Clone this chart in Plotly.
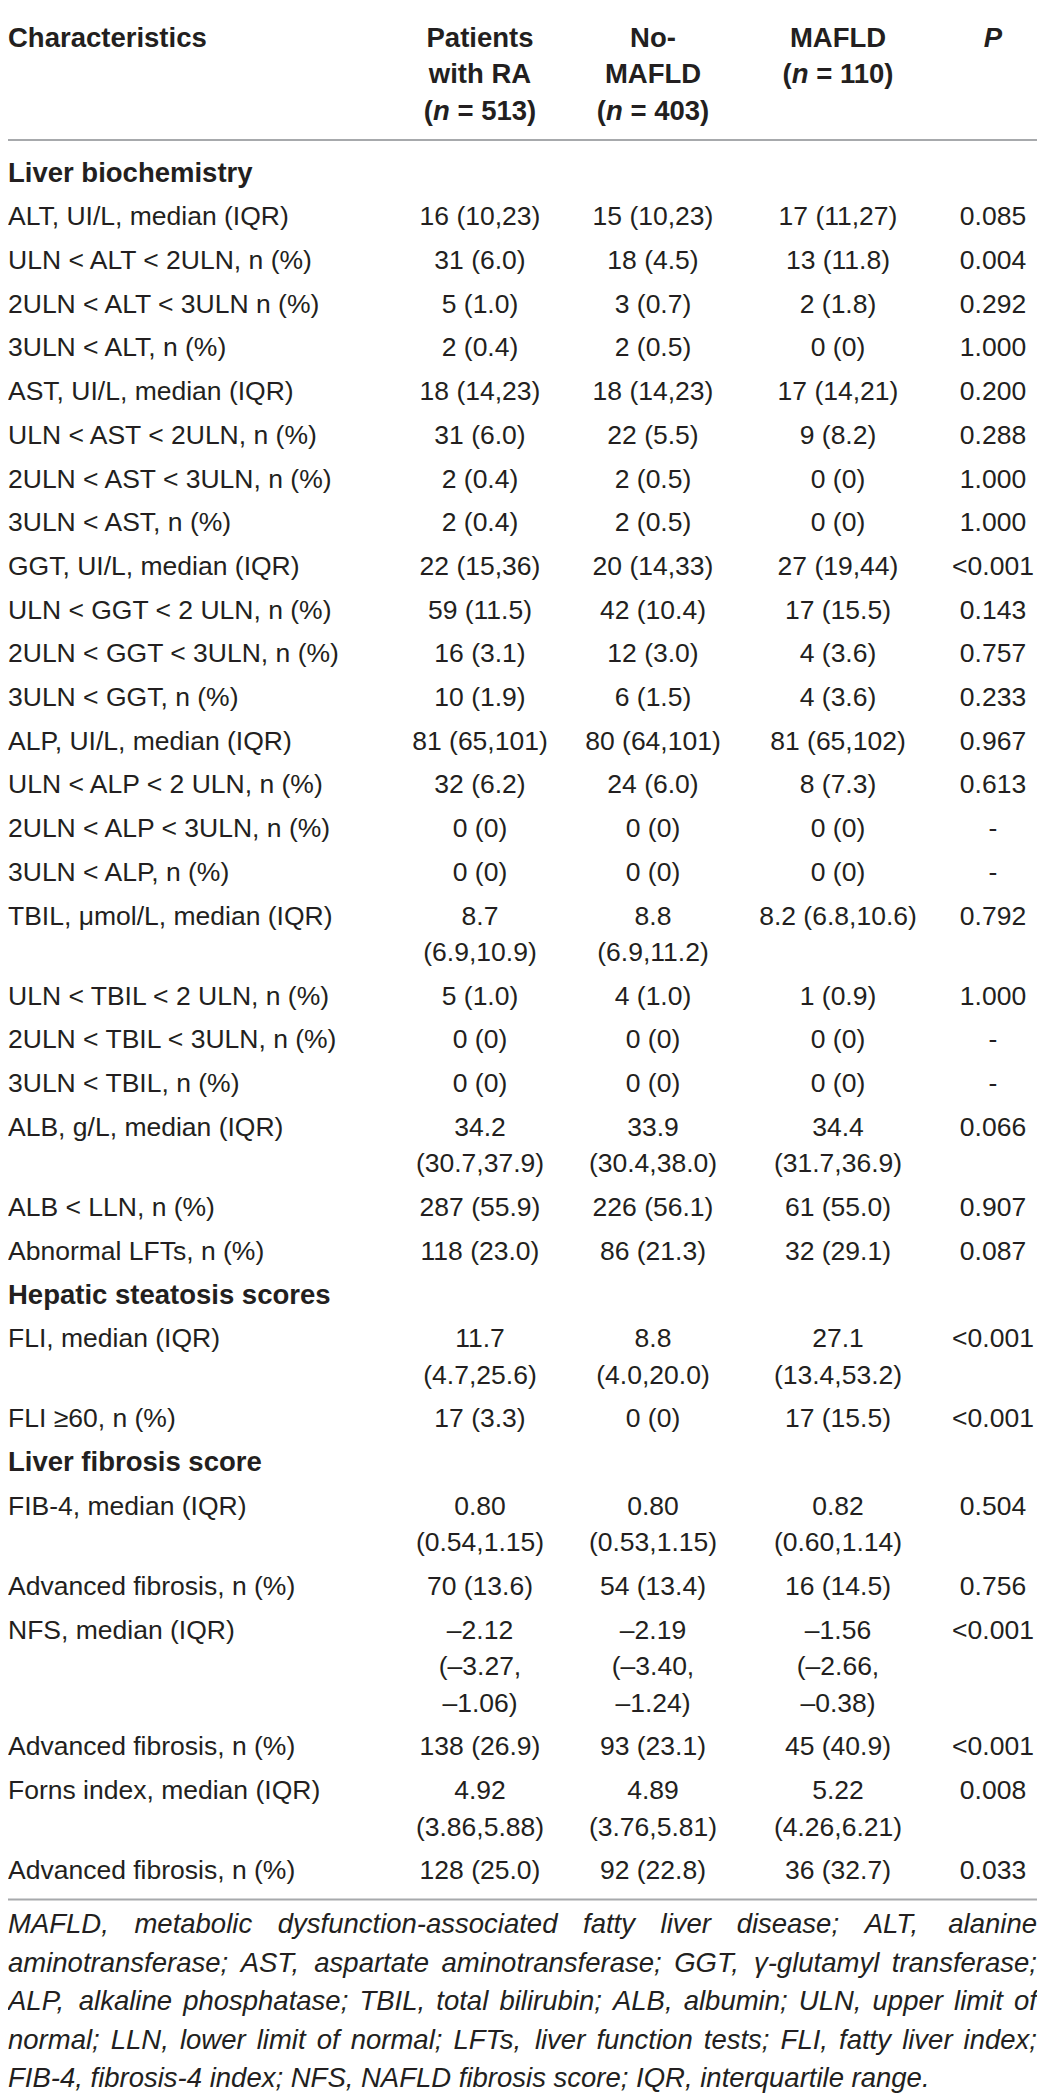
import plotly.graph_objects as go

# ---------------------------------------------------------------------------
# Table content (as printed)
# ---------------------------------------------------------------------------

header_labels = [
    "Characteristics",
    "Patients\nwith RA\n(<i>n</i> = 513)",
    "No-\nMAFLD\n(<i>n</i> = 403)",
    "MAFLD\n(<i>n</i> = 110)",
    "<i>P</i>",
]

section_names = ["Liver biochemistry", "Hepatic steatosis scores", "Liver fibrosis score"]

characteristics = [
    "ALT, UI/L, median (IQR)",
    "ULN < ALT < 2ULN, n (%)",
    "2ULN < ALT < 3ULN n (%)",
    "3ULN < ALT, n (%)",
    "AST, UI/L, median (IQR)",
    "ULN < AST < 2ULN, n (%)",
    "2ULN < AST < 3ULN, n (%)",
    "3ULN < AST, n (%)",
    "GGT, UI/L, median (IQR)",
    "ULN < GGT < 2 ULN, n (%)",
    "2ULN < GGT < 3ULN, n (%)",
    "3ULN < GGT, n (%)",
    "ALP, UI/L, median (IQR)",
    "ULN < ALP < 2 ULN, n (%)",
    "2ULN < ALP < 3ULN, n (%)",
    "3ULN < ALP, n (%)",
    "TBIL, μmol/L, median (IQR)",
    "ULN < TBIL < 2 ULN, n (%)",
    "2ULN < TBIL < 3ULN, n (%)",
    "3ULN < TBIL, n (%)",
    "ALB, g/L, median (IQR)",
    "ALB < LLN, n (%)",
    "Abnormal LFTs, n (%)",
    "FLI, median (IQR)",
    "FLI ≥60, n (%)",
    "FIB-4, median (IQR)",
    "Advanced fibrosis, n (%)",
    "NFS, median (IQR)",
    "Advanced fibrosis, n (%)",
    "Forns index, median (IQR)",
    "Advanced fibrosis, n (%)",
]

# which section each row belongs to
row_section = [0] * 23 + [1] * 2 + [2] * 6

ra_all = [
    "16 (10,23)", "31 (6.0)", "5 (1.0)", "2 (0.4)",
    "18 (14,23)", "31 (6.0)", "2 (0.4)", "2 (0.4)",
    "22 (15,36)", "59 (11.5)", "16 (3.1)", "10 (1.9)",
    "81 (65,101)", "32 (6.2)", "0 (0)", "0 (0)",
    "8.7\n(6.9,10.9)", "5 (1.0)", "0 (0)", "0 (0)",
    "34.2\n(30.7,37.9)", "287 (55.9)", "118 (23.0)",
    "11.7\n(4.7,25.6)", "17 (3.3)",
    "0.80\n(0.54,1.15)", "70 (13.6)", "–2.12\n(–3.27,\n–1.06)",
    "138 (26.9)", "4.92\n(3.86,5.88)", "128 (25.0)",
]

no_mafld = [
    "15 (10,23)", "18 (4.5)", "3 (0.7)", "2 (0.5)",
    "18 (14,23)", "22 (5.5)", "2 (0.5)", "2 (0.5)",
    "20 (14,33)", "42 (10.4)", "12 (3.0)", "6 (1.5)",
    "80 (64,101)", "24 (6.0)", "0 (0)", "0 (0)",
    "8.8\n(6.9,11.2)", "4 (1.0)", "0 (0)", "0 (0)",
    "33.9\n(30.4,38.0)", "226 (56.1)", "86 (21.3)",
    "8.8\n(4.0,20.0)", "0 (0)",
    "0.80\n(0.53,1.15)", "54 (13.4)", "–2.19\n(–3.40,\n–1.24)",
    "93 (23.1)", "4.89\n(3.76,5.81)", "92 (22.8)",
]

mafld = [
    "17 (11,27)", "13 (11.8)", "2 (1.8)", "0 (0)",
    "17 (14,21)", "9 (8.2)", "0 (0)", "0 (0)",
    "27 (19,44)", "17 (15.5)", "4 (3.6)", "4 (3.6)",
    "81 (65,102)", "8 (7.3)", "0 (0)", "0 (0)",
    "8.2 (6.8,10.6)", "1 (0.9)", "0 (0)", "0 (0)",
    "34.4\n(31.7,36.9)", "61 (55.0)", "32 (29.1)",
    "27.1\n(13.4,53.2)", "17 (15.5)",
    "0.82\n(0.60,1.14)", "16 (14.5)", "–1.56\n(–2.66,\n–0.38)",
    "45 (40.9)", "5.22\n(4.26,6.21)", "36 (32.7)",
]

p_values = [
    "0.085", "0.004", "0.292", "1.000",
    "0.200", "0.288", "1.000", "1.000",
    "<0.001", "0.143", "0.757", "0.233",
    "0.967", "0.613", "-", "-",
    "0.792", "1.000", "-", "-",
    "0.066", "0.907", "0.087",
    "<0.001", "<0.001",
    "0.504", "0.756", "<0.001", "<0.001", "0.008", "0.033",
]

footnote_lines = [
    "MAFLD, metabolic dysfunction-associated fatty liver disease; ALT, alanine",
    "aminotransferase; AST, aspartate aminotransferase; GGT, γ-glutamyl transferase;",
    "ALP, alkaline phosphatase; TBIL, total bilirubin; ALB, albumin; ULN, upper limit of",
    "normal; LLN, lower limit of normal; LFTs, liver function tests; FLI, fatty liver index;",
    "FIB-4, fibrosis-4 index; NFS, NAFLD fibrosis score; IQR, interquartile range.",
]

# ---------------------------------------------------------------------------
# Layout constants (page pixels)
# ---------------------------------------------------------------------------

W, H = 1045, 2097
PAGE_PAD = 8                              # browser body margin
COL_X = [8, 480, 653, 838, 993]          # first column left edge, others centres
LEFT, RIGHT = 8, 1037                     # rule / footnote extent
LINE = 36.5                               # line step inside a cell
ROW = 43.7                                # step between single-line rows
SHIFT = 3                                 # text "middle" anchor -> cap centre
FONT = "Liberation Sans, Arial, Helvetica, sans-serif"
INK = "#231f20"
RULE = "#a7a9ac"
FS = 26.5
BOLD_FS = 27.5
FOOT_FS = 27.5
FOOT_STEP = 38.5

# Liberation Sans / Arial advance widths (1/1000 em), used to justify the footnote
_ADV = {}
for chars, w in [("ijl", 222), ("ftI ,./;:!", 278), ("r-()", 333),
                 ("cksvxyzJγ", 500), ("abdeghnopqu0123456789", 556),
                 ("FTZ", 611), ("ABEKPSVXY", 667), ("CDHNRUw", 722),
                 ("GOQ", 778), ("mM", 833), ("%", 889), ("W", 944)]:
    for ch in chars:
        _ADV[ch] = w


def text_width(s, size):
    return sum(_ADV.get(ch, 556) for ch in s) * size / 1000


def esc(s):
    return s.replace("<", "&lt;")


# ---------------------------------------------------------------------------
# Work out line positions
# ---------------------------------------------------------------------------

top_rule = 6
head_y = top_rule + 31
texts = {c: ([], []) for c in range(5)}   # column -> (y list, text list)
bold = ([], [], [])                        # x, y, text

for c, lab in enumerate(header_labels):
    for k, part in enumerate(lab.split("\n")):
        bold[0].append(COL_X[c])
        bold[1].append(head_y + k * LINE + SHIFT)
        bold[2].append(f"<b>{part}</b>")

n_head = max(len(l.split("\n")) for l in header_labels)
head_rule = head_y + (n_head - 1) * LINE + 30

y = head_rule + 32
last_line = y
current = None
for i, name in enumerate(characteristics):
    if row_section[i] != current:
        current = row_section[i]
        bold[0].append(COL_X[0])
        bold[1].append(y + SHIFT)
        bold[2].append(f"<b>{section_names[current]}</b>")
        y += ROW
    cells = [name, ra_all[i], no_mafld[i], mafld[i], p_values[i]]
    n_lines = 1
    for c, cell in enumerate(cells):
        parts = cell.split("\n")
        n_lines = max(n_lines, len(parts))
        for k, part in enumerate(parts):
            texts[c][0].append(y + k * LINE + SHIFT)
            texts[c][1].append(esc(part))
    last_line = y + (n_lines - 1) * LINE
    y += ROW + (n_lines - 1) * LINE

bottom_rule = last_line + 30
foot_y0 = bottom_rule + 24

# footnote words, justified except the last line
foot_x, foot_y, foot_t, foot_pos = [], [], [], []
for k, line in enumerate(footnote_lines):
    ly = foot_y0 + k * FOOT_STEP + SHIFT
    words = line.split(" ")
    if k == len(footnote_lines) - 1 or len(words) < 2:
        foot_x.append(LEFT); foot_y.append(ly)
        foot_t.append(f"<i>{line}</i>"); foot_pos.append("middle right")
        continue
    natural = sum(text_width(w, FOOT_FS) for w in words)
    gap = (RIGHT - LEFT - natural) / (len(words) - 1)
    x = LEFT
    for j, w in enumerate(words):
        last = j == len(words) - 1
        foot_x.append(RIGHT if last else x)
        foot_y.append(ly)
        foot_t.append(f"<i>{w}</i>")
        foot_pos.append("middle left" if last else "middle right")
        x += text_width(w, FOOT_FS) + gap

# ---------------------------------------------------------------------------
# Figure
# ---------------------------------------------------------------------------

fig = go.Figure()

# body cells
for c in range(5):
    ys, ts = texts[c]
    fig.add_trace(go.Scatter(
        x=[COL_X[c]] * len(ys), y=ys, text=ts,
        mode="text",
        textposition="middle right" if c == 0 else "middle center",
        textfont=dict(family=FONT, size=FS, color=INK),
        cliponaxis=False, hoverinfo="skip", showlegend=False,
    ))

# bold headers (column headers and section titles)
fig.add_trace(go.Scatter(
    x=bold[0], y=bold[1], text=bold[2],
    mode="text",
    textposition=["middle right" if x == COL_X[0] else "middle center" for x in bold[0]],
    textfont=dict(family=FONT, size=BOLD_FS, color=INK),
    cliponaxis=False, hoverinfo="skip", showlegend=False,
))

# footnote
fig.add_trace(go.Scatter(
    x=foot_x, y=foot_y, text=foot_t,
    mode="text", textposition=foot_pos,
    textfont=dict(family=FONT, size=FOOT_FS, color=INK),
    cliponaxis=False, hoverinfo="skip", showlegend=False,
))

# horizontal rules
for ry in (top_rule, head_rule, bottom_rule):
    fig.add_shape(type="line", xref="x", yref="y",
                  x0=LEFT, x1=RIGHT, y0=ry, y1=ry,
                  line=dict(color=RULE, width=2))

# the page body has an 8px margin, so the plot area maps onto page pixels;
# the figure runs down to the bottom of the window
fig.update_layout(
    width=W - 2 * PAGE_PAD, height=H - PAGE_PAD,
    margin=dict(l=0, r=0, t=0, b=0),
    paper_bgcolor="white", plot_bgcolor="white",
    xaxis=dict(range=[PAGE_PAD, W - PAGE_PAD], visible=False, fixedrange=True),
    yaxis=dict(range=[H, PAGE_PAD], visible=False, fixedrange=True),
)

fig.write_html("out.html")
